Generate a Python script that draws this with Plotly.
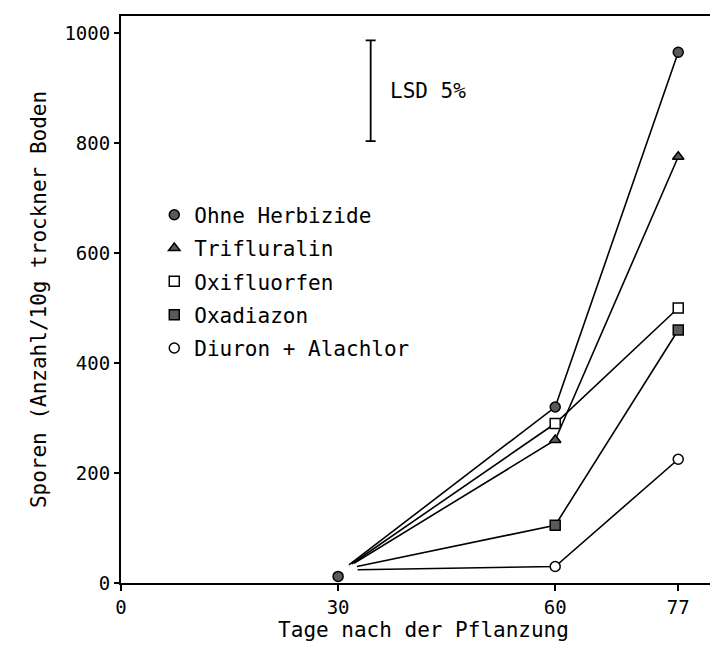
import plotly.graph_objects as go

# ---- data ----
series_names = ["Ohne Herbizide", "Trifluralin", "Oxifluorfen", "Oxadiazon", "Diuron + Alachlor"]
marker_symbols = ["circle", "triangle-up", "square", "square", "circle"]
marker_fills = ["#5a5a5a", "#5a5a5a", "white", "#5a5a5a", "white"]

day_points = [60, 77]
values_60 = [320, 260, 290, 105, 30]
values_77 = [965, 775, 500, 460, 225]

# where each drawn line begins (lines start just right of day 30)
start_days = [31.5, 32.2, 31.9, 32.6, 32.7]
start_values = [33, 36, 35, 30, 24]

# single marker for "Ohne Herbizide" at day 30
ohne_day30 = 30
ohne_value30 = 12

# LSD 5% bar
lsd_day = 34.5
lsd_center = 895
lsd_half = 91.5

x_ticks = [0, 30, 60, 77]
y_ticks = [0, 200, 400, 600, 800, 1000]

FONT = "DejaVu Sans Mono"

fig = go.Figure()

for i, name in enumerate(series_names):
    # connecting line
    fig.add_trace(go.Scatter(
        x=[start_days[i]] + day_points,
        y=[start_values[i], values_60[i], values_77[i]],
        mode="lines",
        line=dict(color="black", width=1.6),
        showlegend=False,
        hoverinfo="skip",
    ))

for i, name in enumerate(series_names):
    xs = list(day_points)
    ys = [values_60[i], values_77[i]]
    if i == 0:
        xs = [ohne_day30] + xs
        ys = [ohne_value30] + ys
    fig.add_trace(go.Scatter(
        x=xs, y=ys,
        mode="markers",
        name=name,
        legendgroup=name,
        marker=dict(symbol=marker_symbols[i], size=10, color=marker_fills[i],
                    line=dict(color="black", width=1.5)),
    ))

# LSD bar
fig.add_trace(go.Scatter(
    x=[lsd_day], y=[lsd_center],
    mode="markers",
    marker=dict(size=0.1, color="rgba(0,0,0,0)"),
    error_y=dict(type="data", array=[lsd_half], color="black", thickness=1.8, width=5),
    showlegend=False, hoverinfo="skip",
))
fig.add_annotation(x=lsd_day + 2.4, y=lsd_center, text="LSD 5%", showarrow=False,
                   xanchor="left", yanchor="middle", font=dict(family=FONT, size=21, color="black"))

fig.update_layout(
    width=718, height=645,
    margin=dict(l=113, r=0, t=8, b=70),
    paper_bgcolor="white", plot_bgcolor="white",
    font=dict(family=FONT, size=19, color="black"),
    showlegend=True,
    legend=dict(x=0.055, y=0.685, xanchor="left", yanchor="top",
                bgcolor="rgba(0,0,0,0)", borderwidth=0,
                font=dict(family=FONT, size=21, color="black"),
                tracegroupgap=3, itemwidth=30),
    xaxis=dict(range=[0, 83.6], tickvals=x_ticks, ticktext=[str(t) for t in x_ticks],
               showgrid=False, zeroline=False, showline=True, linecolor="black", linewidth=2,
               mirror=True, ticks="outside", ticklen=6, tickwidth=2, tickcolor="black",
               title=dict(text="Tage nach der Pflanzung", font=dict(family=FONT, size=21), standoff=4)),
    yaxis=dict(range=[0, 1031], tickvals=y_ticks,
               showgrid=False, zeroline=False, showline=True, linecolor="black", linewidth=2,
               ticks="outside", ticklen=5, tickwidth=1.5, tickcolor="black",
               title=dict(text="Sporen (Anzahl/10g trockner Boden", font=dict(family=FONT, size=21), standoff=12)),
)

fig.write_html("out.html")
